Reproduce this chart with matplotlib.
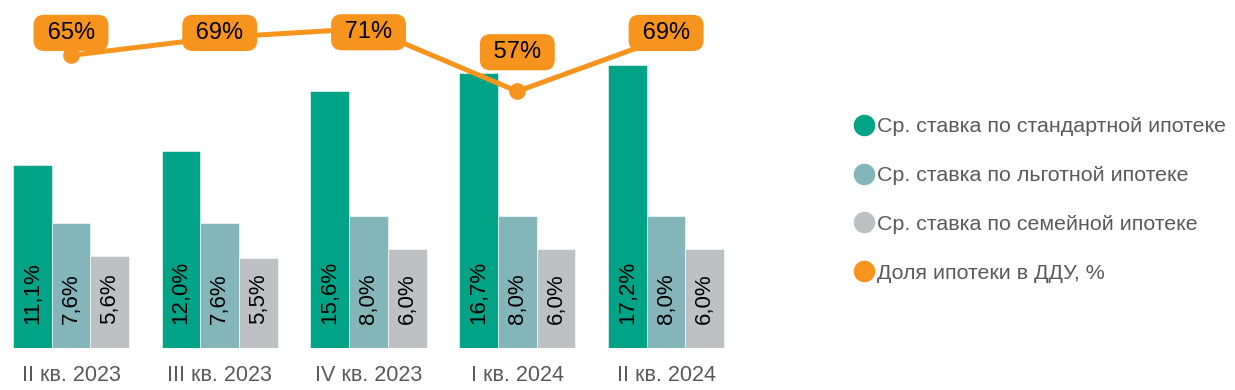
import matplotlib
matplotlib.use("Agg")
from matplotlib import pyplot as plt
from matplotlib.lines import Line2D
import numpy as np

# Данные
kvartaly = ["II кв. 2023", "III кв. 2023", "IV кв. 2023", "I кв. 2024", "II кв. 2024"]
stavka_standart = [11.1, 12.0, 15.6, 16.7, 17.2]
stavka_lgotnaya = [7.6, 7.6, 8.0, 8.0, 8.0]
stavka_semeynaya = [5.6, 5.5, 6.0, 6.0, 6.0]
dolya_ddu = [65, 69, 71, 57, 69]

serii = [
    ("Ср. ставка по стандартной ипотеке", stavka_standart, "#00A386"),
    ("Ср. ставка по льготной ипотеке", stavka_lgotnaya, "#84B6B9"),
    ("Ср. ставка по семейной ипотеке", stavka_semeynaya, "#BEC1C4"),
]
oranzh = "#F7941D"
seryy_text = "#595959"

plt.rcParams['font.family'] = ['Liberation Sans', 'DejaVu Sans']

fig = plt.figure(figsize=(12.35, 3.9), dpi=100)
ax = fig.add_axes([0, 42 / 390, 740 / 1235, 348 / 390])

x = np.arange(len(kvartaly))
w = 0.26
for i, (nazv, vals, col) in enumerate(serii):
    pos = x + (i - 1) * w
    ax.bar(pos, vals, width=w, color=col, edgecolor="white", linewidth=0.4, zorder=2)
    for px, v in zip(pos, vals):
        ax.annotate(f"{v:.1f}%".replace(".", ","), (px, 0), xytext=(0, 17.5),
                    textcoords="offset points", rotation=90, ha="center", va="bottom",
                    fontsize=16, color="black", zorder=3)

ax.set_xlim(-0.477, 4.497)
ax.set_ylim(0, 21.15)
ax.set_xticks(x)
ax.set_xticklabels(kvartaly, fontsize=15.5, color=seryy_text)
ax.tick_params(axis="x", length=0, pad=12)
ax.set_yticks([])
for s in ax.spines.values():
    s.set_visible(False)

# Доля ипотеки в ДДУ
ax2 = ax.twinx()
ax2.set_ylim(0, 77.3)
ax2.plot(x, dolya_ddu, color=oranzh, lw=3.6, marker="o", markersize=11,
         solid_capstyle="round", zorder=4)
ax2.set_yticks([])
for s in ax2.spines.values():
    s.set_visible(False)

sdvig = [18, 5, -1, 30, 5]  # смещение подписей, pt
for px, v, dy in zip(x, dolya_ddu, sdvig):
    ax2.annotate(f" {v}% ", (px, v), xytext=(0, dy), textcoords="offset points",
                 ha="center", va="center_baseline", fontsize=17, color="black", zorder=6,
                 bbox=dict(boxstyle="round,pad=0.3,rounding_size=0.45",
                           fc=oranzh, ec="none"))

# Легенда
handles = [Line2D([], [], ls="none", marker="o", markersize=14.5, color=c) for _, _, c in serii]
handles.append(Line2D([], [], ls="none", marker="o", markersize=14.5, color=oranzh))
labels = [s[0] for s in serii] + ["Доля ипотеки в ДДУ, %"]
fig.legend(handles, labels, loc="center left", bbox_to_anchor=(834 / 1235, 1 - 200 / 390),
           frameon=False, fontsize=15.4, labelcolor=seryy_text, handletextpad=0.1,
           labelspacing=1.4, handlelength=1.0)

fig.savefig("out.png", dpi=100)
